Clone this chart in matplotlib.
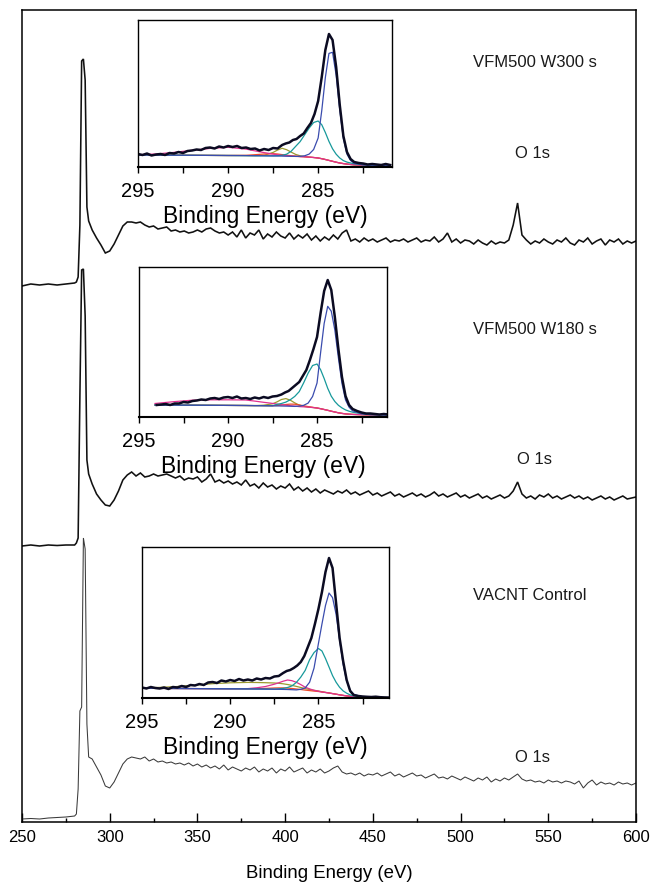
import numpy as np
import matplotlib
matplotlib.use('Agg')
import matplotlib.pyplot as plt

plt.rcParams['font.family'] = ['Liberation Sans', 'DejaVu Sans']

# ---------------- main survey spectra (intensity above pre-edge, a.u.) ----------------
E_edge = [250, 255, 260, 265, 270, 275, 280, 281, 282, 283, 284, 285, 286, 287, 288, 290]
E_step_start = 292.5   # then every 2.5 eV up to 600

top_edge = [-1, 1, 0, 1, 0, 1, 2, 3, 8, 60, 224, 226, 205, 78, 64, 55]
top_tail = [47, 40, 32, 34, 41, 50, 59, 63, 63, 62, 63, 60, 58, 59, 56, 57, 58, 54, 55, 53,
            54, 52, 53, 55, 53, 56, 57, 54, 52, 53, 50, 53, 48, 55, 47, 52, 50, 55, 46, 51,
            48, 53, 49, 47, 52, 46, 50, 47, 51, 45, 49, 44, 48, 45, 50, 46, 52, 55, 44, 46,
            43, 47, 44, 46, 43, 45, 47, 43, 45, 44, 46, 43, 45, 47, 43, 45, 44, 48, 43, 46,
            52, 43, 46, 42, 45, 44, 41, 45, 42, 40, 44, 41, 43, 42, 45, 60, 82, 50, 45, 41,
            44, 42, 46, 43, 41, 45, 43, 47, 42, 40, 45, 43, 47, 41, 44, 46, 40, 45, 43, 46,
            41, 44, 42, 44]

mid_edge = [0, 1, 0, 1, 0.5, 1, 1, 3, 8, 150, 276, 277, 230, 86, 72, 62]
mid_tail = [52, 46, 41, 40, 46, 55, 66, 71, 74, 70, 73, 69, 70, 72, 70, 71, 72, 70, 68, 70,
            66, 68, 67, 69, 64, 67, 72, 64, 66, 63, 65, 62, 64, 61, 66, 60, 62, 58, 63, 59,
            61, 57, 60, 58, 62, 56, 59, 55, 58, 54, 57, 53, 56, 54, 52, 55, 53, 56, 52, 54,
            51, 53, 55, 51, 53, 50, 52, 54, 50, 52, 49, 51, 53, 50, 52, 49, 51, 54, 50, 52,
            49, 51, 53, 49, 51, 48, 50, 52, 48, 50, 47, 49, 51, 48, 50, 55, 64, 52, 48, 50,
            47, 51, 49, 52, 48, 50, 47, 49, 51, 48, 50, 47, 49, 46, 48, 50, 47, 49, 46, 48,
            50, 47, 48, 49]

bot_edge = [0, 0.5, 0, 1, 1.5, 2, 3, 5, 30, 108, 112, 281, 270, 95, 62, 60]
bot_tail = [52, 44, 33, 31, 37, 46, 55, 60, 62, 61, 60, 62, 58, 60, 57, 58, 56, 57, 55, 56,
            54, 56, 53, 55, 52, 54, 51, 53, 50, 54, 49, 52, 50, 48, 51, 49, 52, 47, 50, 48,
            51, 46, 50, 48, 52, 47, 49, 51, 46, 49, 47, 50, 46, 48, 51, 53, 47, 45, 46, 44,
            46, 43, 45, 44, 46, 43, 45, 47, 43, 45, 42, 44, 46, 43, 44, 41, 43, 45, 41, 42,
            40, 43, 41, 39, 42, 40, 38, 41, 39, 42, 37, 40, 38, 41, 39, 42, 45, 40, 38, 39,
            37, 38, 36, 39, 37, 38, 36, 38, 37, 35, 38, 31, 36, 39, 34, 37, 35, 36, 34, 37,
            35, 36, 34, 36]

trace_offsets = [537, 276, 3]

# ---------------- C 1s insets ----------------
# component grid (binding energy, eV)
G = [295, 294, 293, 292, 291, 290, 289, 288.5, 288, 287.5, 287.25, 287, 286.75, 286.5,
     286.25, 286, 285.75, 285.5, 285.25, 285, 284.8, 284.6, 284.4, 284.2, 284, 283.8,
     283.6, 283.4, 283.2, 283, 282.5, 282, 281]
G2 = [294.1, 293, 292, 291, 290, 289, 288.5, 288, 287.5, 287.25, 287, 286.75, 286.5,
      286.25, 286, 285.75, 285.5, 285.25, 285, 284.8, 284.6, 284.4, 284.2, 284, 283.8,
      283.6, 283.4, 283.2, 283, 282.5, 282, 281.1]

# inset 1 (VFM500 W300 s)
bg1 = [12, 12, 11.8, 11.7, 11.6, 11.5, 11.4, 11.3, 11.2, 11.1, 11, 10.9, 10.8, 10.7, 10.6,
       10.4, 10.2, 9.9, 9.5, 9.0, 8.3, 7.5, 6.6, 5.7, 4.8, 4.0, 3.4, 2.9, 2.5, 2.2, 1.9, 1.8, 1.7]
blue1 = [0] * 15 + [0.3, 1, 3, 8, 20, 48, 82, 107, 109, 87, 53, 25, 10, 4, 1.5, 0.3, 0, 0]
teal1 = [0] * 10 + [0.3, 0.8, 2, 5, 10, 15, 22, 29, 35, 37, 34, 27, 19, 12.5, 8, 5, 3, 2, 1.5, 1, 0.3, 0, 0]
olive1 = [0] * 8 + [0.5, 3.5, 6, 7.8, 6.5, 4.2, 2, 0.8, 0.2] + [0] * 16
magenta1 = [0.3, 1, 2.8, 5, 7, 8.2, 6.5, 4.8, 3.2, 1.8, 1.2, 0.7, 0.4, 0.2] + [0] * 19
red1 = [0, 0, 0, 0, 0, 0, 0.3, 1, 1.8, 2.2, 2, 1.5, 1, 0.6, 0.3] + [0] * 18
env1_a = [13, 12, 13.5, 11.5, 12.5, 13, 12, 14, 13.5, 15, 14, 16, 16.5, 17.5, 17, 19,
          19.5, 18.5, 20.5, 19.5, 21, 20, 21, 19, 19.5, 18, 18.5, 16.5, 18, 17, 19, 18.5]
env1_b = [22, 23.5, 24.5, 27, 28, 31, 33.5, 39, 44, 53, 66, 90, 117, 133, 127, 100, 62, 31, 15, 8, 5]
env1_c = [4, 3.5, 2.5, 3, 2.5, 2, 3, 2]

# inset 2 (VFM500 W180 s)
bg2 = [12, 11.9, 11.8, 11.7, 11.6, 11.5, 11.4, 11.3, 11.2, 11.1, 11.0, 10.9, 10.8, 10.6, 10.4,
       10.2, 9.9, 9.5, 9.0, 8.3, 7.5, 6.7, 5.8, 5.0, 4.2, 3.6, 3.1, 2.8, 2.6, 2.3, 2.1, 2.0]
blue2 = [0] * 14 + [0.5, 1.5, 4, 11, 25, 56, 86, 104, 100, 82, 55, 30, 14, 7, 3.5, 1, 0.3, 0]
teal2 = [0] * 9 + [1.5, 2.5, 4, 6.5, 10, 15, 24, 34, 42, 44, 39, 31, 22, 15, 10.5, 7.5, 5.5, 4, 3, 2.2, 1, 0.3, 0]
olive2 = [0] * 7 + [0.5, 2, 4, 6.5, 7.5, 6, 3.5, 1.5, 0.5] + [0] * 16
magenta2 = [1.5, 3.5, 5, 5.5, 5.6, 5.5, 4.5, 3.4, 2.4, 1.8, 1.3, 0.9, 0.5, 0.3] + [0] * 18
red2 = [0] * 9 + [0.4, 0.9, 1.6, 2.1, 2.2, 1.7, 1.0, 0.5, 0.2] + [0] * 14
env2_a = [12, 12.5, 13, 12, 13.5, 13.5, 15, 14.5, 16, 16.5, 17.5, 17, 18.5, 19, 18, 19.5,
          20, 19, 20.5, 18.5, 19, 18, 19.5, 18.5, 20, 19, 20.5, 21]
env2_b = [22.5, 24.5, 26, 29, 32, 35, 41, 47, 57, 68, 80, 104, 126, 137, 127, 100, 68, 40, 21, 12, 8]
env2_c = [6, 4.5, 3.5, 3.5, 3, 2.5, 3, 2.5]

# inset 3 (VACNT Control)
bg3 = [9.7, 9.6, 9.5, 9.4, 9.3, 9.2, 9.1, 9.0, 8.9, 8.8, 8.7, 8.6, 8.5, 8.3, 8.1, 7.9, 7.6,
       7.3, 6.9, 6.5, 6.0, 5.5, 5.0, 4.4, 3.8, 3.2, 2.6, 2.1, 1.7, 1.3, 0.8, 0.5, 0.3]
blue3 = [0] * 15 + [0.8, 2.5, 8.5, 23, 48, 68, 87, 100, 96, 80, 55, 31, 15, 6, 2.4, 0.4, 0, 0]
teal3 = [0] * 10 + [0.5, 1, 2, 3.8, 7.5, 13, 20, 31, 38.5, 43, 41, 34, 26, 18, 12, 7.5, 4.5, 2.7, 1.4, 0.8, 0.2, 0, 0]
olive3 = [0.5, 1, 2, 3.5, 5, 6, 6.5, 6.5, 6.4, 6.2, 6, 5.6, 5, 4.3, 3.5, 2.6, 1.8, 1.2, 0.8,
          0.5, 0.3, 0.2] + [0] * 11
magenta3 = [0] * 6 + [0.3, 1.2, 2.6, 5, 6.5, 8.2, 9.5, 9, 7.6, 5.5, 3.2, 1.8, 0.8, 0.3] + [0] * 13
red3 = [0] * 7 + [0.3, 0.7, 1.2, 1.4, 1.5, 1.4, 1.2, 0.9, 0.6, 0.3, 0.1] + [0] * 15
env3_a = [10.5, 9.5, 11, 10, 9.5, 10.5, 9, 11, 10.5, 12, 11, 13, 12.5, 14, 13, 15.5, 16, 15,
          17.5, 16.5, 18, 17, 19, 17.5, 18.5, 17.5, 19.5, 18.5, 20, 19.5, 21.5, 22]
env3_b = [25, 27, 28, 30, 32.5, 36, 42, 51, 60, 74, 89, 106, 126, 140, 130, 95, 60, 37, 18, 7, 3]
env3_c = [2, 1.5, 1.2, 1, 1.3, 0.8, 0.6, 0.5]

inset_ticks = [295, 290, 285]
inset_minor = [292.5, 287.5, 282.5]
main_ticks = [250, 300, 350, 400, 450, 500, 550, 600]

C_BLUE, C_TEAL, C_OLIVE, C_MAG, C_RED = '#3a4cae', '#17999b', '#9c9a30', '#e0308f', '#ee4a2a'
C_ENV = '#0b0b22'

W, H = 651, 882
fig = plt.figure(figsize=(W / 100, H / 100), dpi=100)
ax = fig.add_axes([22 / W, 60 / H, 614 / W, 812 / H])

def full_trace(edge, tail):
    x = list(E_edge) + list(E_step_start + 2.5 * np.arange(len(tail)))
    return np.array(x), np.array(edge + tail, dtype=float)

for (edge, tail), off, col, lw in zip([(top_edge, top_tail), (mid_edge, mid_tail), (bot_edge, bot_tail)],
                                      trace_offsets, ['#111111', '#111111', '#3a3a3a'], [1.15, 1.15, 0.75]):
    x, y = full_trace(edge, tail)
    ax.plot(x, y + off, color=col, lw=lw, solid_joinstyle='miter')

ax.set_xlim(250, 600)
ax.set_ylim(0, 812)
ax.set_yticks([])
ax.set_xticks(main_ticks)
ax.set_xticks(np.arange(275, 600, 50), minor=True)
ax.tick_params(axis='x', which='major', direction='in', length=6.5, width=1.0, pad=6, labelsize=12)
ax.tick_params(axis='x', which='minor', direction='in', length=3, width=1.0)
for s in ax.spines.values():
    s.set_linewidth(1.1)
ax.set_xlabel('Binding Energy (eV)', fontsize=13.4, labelpad=14)

tkw = dict(fontsize=12, color='#1a1a1a', va='center')
ax.text(507, 760, 'VFM500 W300 s', ha='left', **tkw)
ax.text(541, 669, 'O 1s', ha='center', **tkw)
ax.text(507, 492, 'VFM500 W180 s', ha='left', **tkw)
ax.text(542, 363, 'O 1s', ha='center', **tkw)
ax.text(507, 227, 'VACNT Control', ha='left', **tkw)
ax.text(541, 64, 'O 1s', ha='center', **tkw)

def make_inset(rect, xr, ytop, grid, bg, comps, env_a, start_a, env_b, env_c):
    a = fig.add_axes(rect)
    a.set_facecolor('white')
    bgv = np.array(bg, dtype=float)
    for col, pk in comps:
        a.plot(grid, bgv + np.array(pk, dtype=float), color=col, lw=0.9)
    xa = start_a - 0.25 * np.arange(len(env_a))
    xb = 287 - 0.2 * np.arange(len(env_b))
    xc = 282.75 - 0.25 * np.arange(len(env_c))
    a.plot(np.concatenate([xa, xb, xc]), np.array(env_a + env_b + env_c, dtype=float),
           color=C_ENV, lw=1.8)
    a.set_xlim(295, xr)
    a.set_ylim(0, ytop)
    a.set_yticks([])
    a.set_xticks(inset_ticks)
    a.set_xticks(inset_minor, minor=True)
    a.tick_params(axis='x', which='both', direction='out', length=4.5, width=1.0, pad=6.5,
                  labelsize=14.5)
    for s in a.spines.values():
        s.set_linewidth(1.0)
    a.spines['bottom'].set_linewidth(1.5)
    a.set_xlabel('Binding Energy (eV)', fontsize=16.5, labelpad=3)
    return a

make_inset([138 / W, (H - 167) / H, 254 / W, 147 / H], 280.9, 147, G, bg1,
           [(C_OLIVE, olive1), (C_RED, red1), (C_MAG, magenta1), (C_TEAL, teal1), (C_BLUE, blue1)],
           env1_a, 295, env1_b, env1_c)
make_inset([139 / W, (H - 417) / H, 248 / W, 150 / H], 281.07, 150, G2, bg2,
           [(C_OLIVE, olive2), (C_RED, red2), (C_MAG, magenta2), (C_TEAL, teal2), (C_BLUE, blue2)],
           env2_a, 294, env2_b, env2_c)
make_inset([142 / W, (H - 698) / H, 247 / W, 151 / H], 281.0, 151, G, bg3,
           [(C_OLIVE, olive3), (C_RED, red3), (C_MAG, magenta3), (C_TEAL, teal3), (C_BLUE, blue3)],
           env3_a, 295, env3_b, env3_c)

fig.savefig('out.png', dpi=100)
